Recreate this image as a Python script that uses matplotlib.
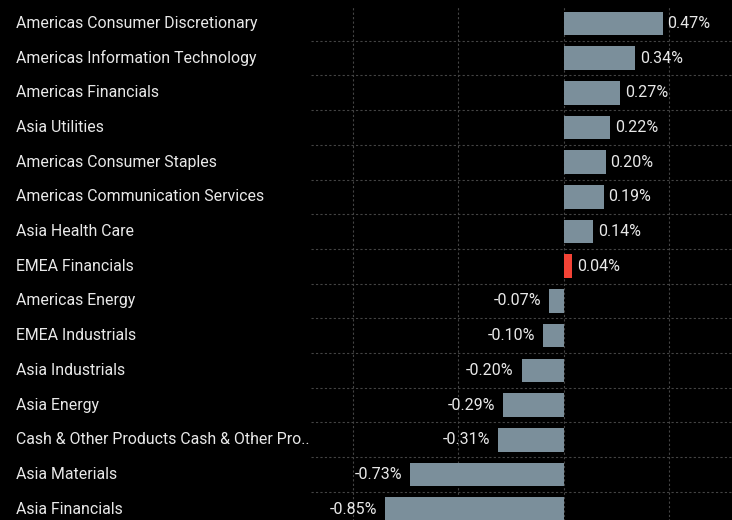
"""sector performance bar chart, dark theme"""

import matplotlib
matplotlib.use('Agg')
import matplotlib.pyplot as plt
import matplotlib.transforms as mtransforms

# sector names, top to bottom
sectors = [
    'Americas Consumer Discretionary',
    'Americas Information Technology',
    'Americas Financials',
    'Asia Utilities',
    'Americas Consumer Staples',
    'Americas Communication Services',
    'Asia Health Care',
    'EMEA Financials',
    'Americas Energy',
    'EMEA Industrials',
    'Asia Industrials',
    'Asia Energy',
    'Cash & Other Products Cash & Other Pro..',
    'Asia Materials',
    'Asia Financials',
]
# performance in percent
perf = [0.47, 0.34, 0.27, 0.22, 0.20, 0.19, 0.14, 0.04,
        -0.07, -0.10, -0.20, -0.29, -0.31, -0.73, -0.85]
highlight = 'EMEA Financials'

bg = '#000000'
bar_color = '#7b8f9b'
hl_color = '#f44336'
text_color = '#e8e8e8'
grid_color = '#444444'

plt.rcParams['font.family'] = ['Roboto', 'DejaVu Sans']

fig = plt.figure(figsize=(7.32, 5.2), dpi=100, facecolor=bg)
W, H = 732, 520
row_h = 34.7
top_px = 6.0
n = len(sectors)
ax = fig.add_axes([311 / W, 1 - (top_px + n * row_h) / H, 1 - 311 / W, n * row_h / H])
ax.set_facecolor(bg)

ypos = list(range(n))
colors = [hl_color if s == highlight else bar_color for s in sectors]
ax.barh(ypos, perf, height=0.68, color=colors, zorder=2)

ax.set_xlim(-1.2, 0.8)
ax.set_ylim(n - 0.5, -0.5)

# grid: vertical dotted lines at 0.5 steps, horizontal between rows
for x in [-1.0, -0.5, 0.0, 0.5]:
    ax.axvline(x, color=grid_color, linestyle=(0, (2, 2)), linewidth=0.8, zorder=1)
for i in range(n - 1):
    ax.axhline(i + 0.5, color=grid_color, linestyle=(0, (2, 2)), linewidth=0.8, zorder=1)

# value labels
for y, v in zip(ypos, perf):
    if v >= 0:
        ax.annotate(f'{v:.2f}%', (v, y), xytext=(3.5, 0), textcoords='offset points',
                    ha='left', va='center', color=text_color, fontsize=11.5)
    else:
        ax.annotate(f'{v:.2f}%', (v, y), xytext=(-5.5, 0), textcoords='offset points',
                    ha='right', va='center', color=text_color, fontsize=11.5)

# category labels on the left
trans = mtransforms.blended_transform_factory(fig.transFigure, ax.transData)
for y, s in zip(ypos, sectors):
    ax.text(16 / W, y, s, transform=trans, ha='left', va='center',
            color=text_color, fontsize=11.4, clip_on=False)

ax.set_xticks([])
ax.set_yticks([])
for sp in ax.spines.values():
    sp.set_visible(False)

fig.savefig('out.png', dpi=100, facecolor=bg)
